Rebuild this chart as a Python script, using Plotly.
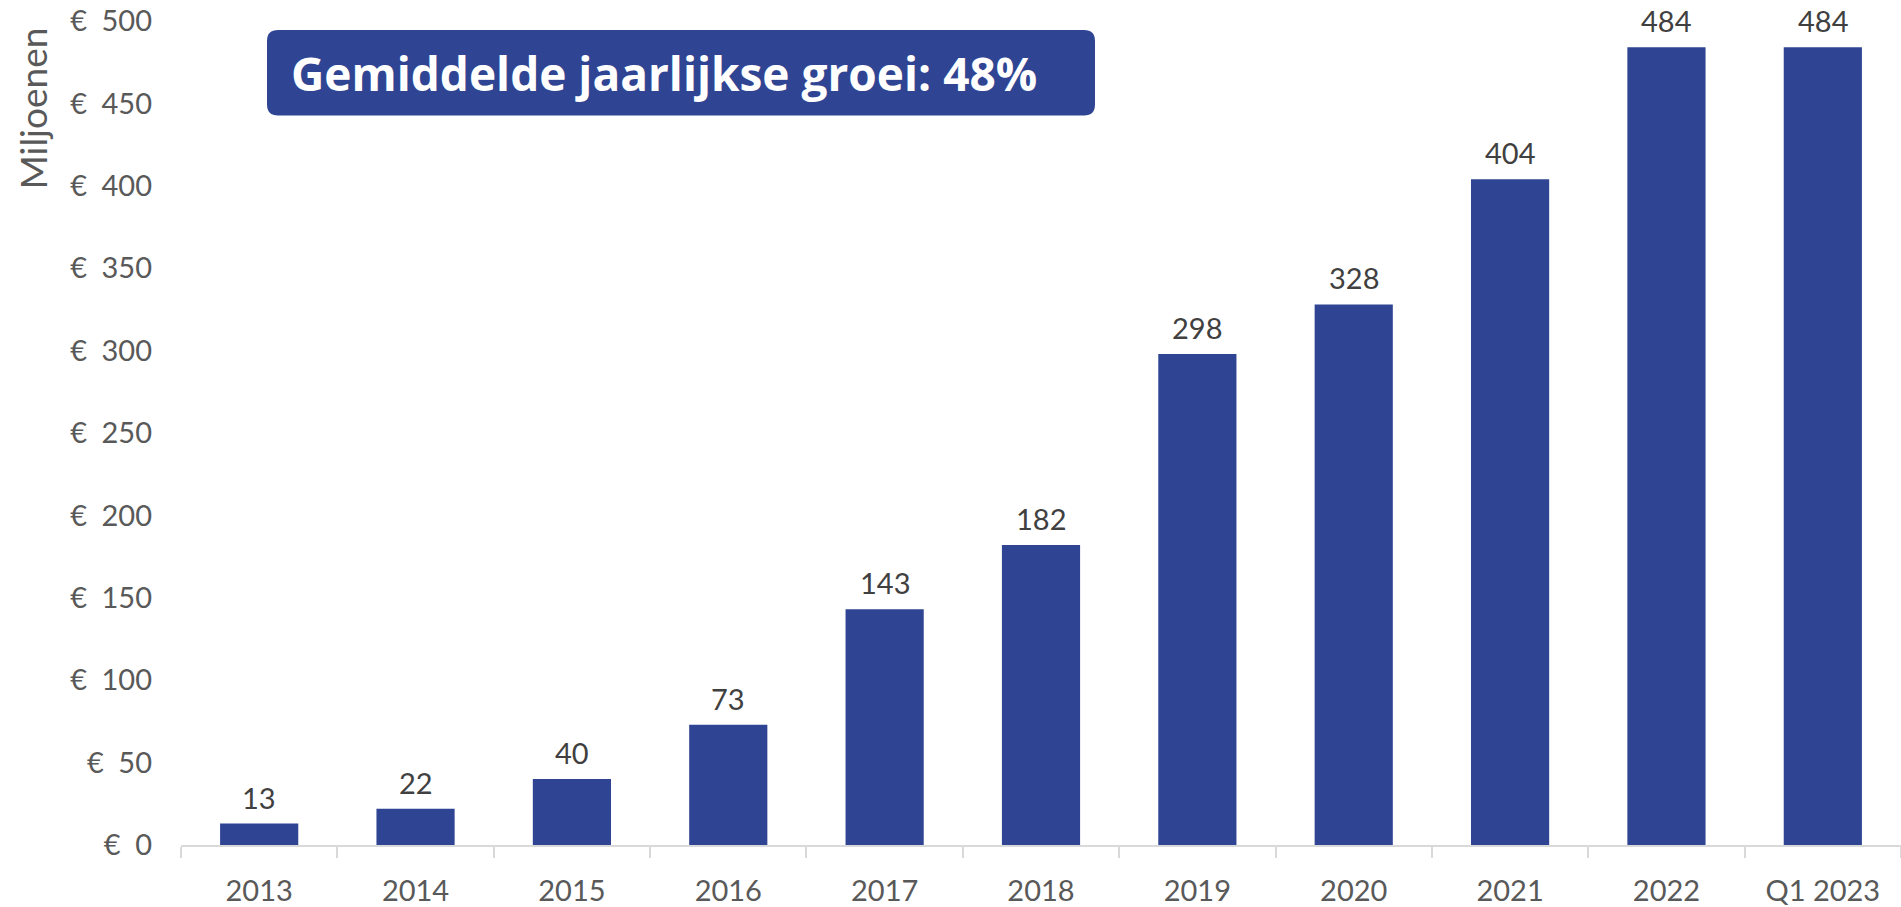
import plotly.graph_objects as go

# Categories and values (€ miljoenen)
categories = ["2013", "2014", "2015", "2016", "2017", "2018", "2019", "2020", "2021", "2022", "Q1 2023"]
values = [13, 22, 40, 73, 143, 182, 298, 328, 404, 484, 484]
y_ticks = [0, 50, 100, 150, 200, 250, 300, 350, 400, 450, 500]

BAR_COLOR = "#2F4593"
TEXT_GREY = "#595959"
LABEL_GREY = "#404040"
FONT = "Lato, 'Open Sans', sans-serif"
BOLD_FONT = "'Open Sans', Lato, sans-serif"

# plot area in pixels
L, R, T, B = 181, 0, 21, 58
W, H = 1901, 907
PW, PH = W - L - R, H - T - B


def px_x(x):
    return (x - L) / PW


def px_y(y):
    return (H - B - y) / PH


fig = go.Figure()
fig.add_trace(go.Bar(
    x=categories,
    y=values,
    width=0.5,
    marker=dict(color=BAR_COLOR, line=dict(width=0)),
    cliponaxis=False,
    hoverinfo="x+y",
))

# value labels above each bar (positioned by category index)
value_labels = [
    dict(
        x=i, y=v, xref="x", yref="y",
        text=str(v), showarrow=False,
        xanchor="center", yanchor="bottom", yshift=7,
        font=dict(family=FONT, size=29, color=LABEL_GREY),
    )
    for i, v in enumerate(values)
]

# rounded box behind the headline
bx0, bx1, by0, by1, r = 267, 1095, 30, 116, 11
rx, ry = r / PW, r / PH
x0, x1, y0, y1 = px_x(bx0), px_x(bx1), px_y(by1), px_y(by0)
box_path = (
    f"M {x0 + rx},{y0} L {x1 - rx},{y0} Q {x1},{y0} {x1},{y0 + ry} "
    f"L {x1},{y1 - ry} Q {x1},{y1} {x1 - rx},{y1} "
    f"L {x0 + rx},{y1} Q {x0},{y1} {x0},{y1 - ry} "
    f"L {x0},{y0 + ry} Q {x0},{y0} {x0 + rx},{y0} Z"
)

fig.update_layout(
    width=W,
    height=H,
    margin=dict(l=L, r=R, t=T, b=B),
    paper_bgcolor="white",
    plot_bgcolor="white",
    showlegend=False,
    font=dict(family=FONT, color=TEXT_GREY),
    xaxis=dict(
        type="category",
        range=[-0.5, len(categories) - 0.5],
        showline=True,
        linecolor="#D9D9D9",
        linewidth=2,
        ticks="outside",
        tickson="boundaries",
        ticklen=11,
        tickwidth=2,
        tickcolor="#D9D9D9",
        tickfont=dict(family=FONT, size=29, color=TEXT_GREY),
        ticklabelstandoff=19,
        showgrid=False,
        zeroline=False,
    ),
    yaxis=dict(
        range=[0, 500],
        tickvals=y_ticks,
        ticktext=[f"€\u2002{v}" for v in y_ticks],
        tickfont=dict(family=FONT, size=29, color=TEXT_GREY),
        ticklabelstandoff=28,
        showgrid=False,
        zeroline=False,
        showline=False,
    ),
    shapes=[dict(
        type="path", xref="paper", yref="paper",
        path=box_path,
        fillcolor=BAR_COLOR, line=dict(width=0), layer="above",
    )],
    annotations=value_labels + [
        dict(
            text="<b>Gemiddelde jaarlijkse groei: 48%</b>",
            xref="paper", yref="paper",
            x=px_x(289), y=px_y(73),
            xanchor="left", yanchor="middle",
            showarrow=False,
            font=dict(family=BOLD_FONT, size=46, color="white"),
        ),
        dict(
            text="Miljoenen",
            xref="paper", yref="paper",
            x=px_x(33), y=px_y(109),
            xanchor="center", yanchor="middle",
            textangle=-90,
            showarrow=False,
            font=dict(family=FONT, size=37, color=TEXT_GREY),
        ),
    ],
)

fig.write_html("out.html")
